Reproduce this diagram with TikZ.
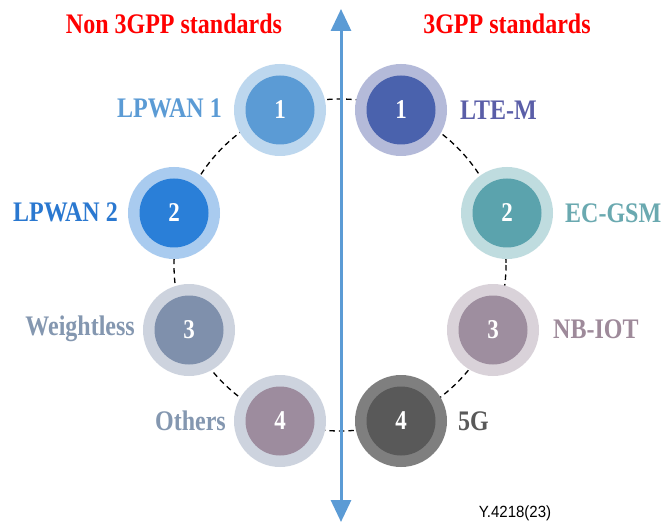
\documentclass[tikz,border=0pt]{standalone}
\usepackage{fontspec}
\usepackage{graphicx}
\setmainfont{Liberation Serif}
\newfontfamily\figsans{Liberation Sans}
\usetikzlibrary{arrows.meta}
\newcommand{\tallt}[1]{\scalebox{1}[1.18]{#1}}
\definecolor{axisblue}{HTML}{5B9BD5}
\definecolor{titlered}{HTML}{FF0000}
\definecolor{laA}{HTML}{BDD7EE}\definecolor{lbA}{HTML}{5B9BD5}
\definecolor{laB}{HTML}{A9CBEF}\definecolor{lbB}{HTML}{2A7FD8}
\definecolor{laC}{HTML}{CDD3DE}\definecolor{lbC}{HTML}{7F90AC}
\definecolor{laD}{HTML}{CDD3DE}\definecolor{lbD}{HTML}{9D8C9E}
\definecolor{raA}{HTML}{B4BAD9}\definecolor{rbA}{HTML}{4A62AD}
\definecolor{raB}{HTML}{BFDCDF}\definecolor{rbB}{HTML}{5BA3AD}
\definecolor{raC}{HTML}{D9D2D9}\definecolor{rbC}{HTML}{9E8E9F}
\definecolor{raD}{HTML}{7F7F7F}\definecolor{rbD}{HTML}{595959}
\definecolor{txA}{HTML}{5B9BD5}
\definecolor{txB}{HTML}{2A78D0}
\definecolor{txC}{HTML}{8497B0}
\definecolor{txE}{HTML}{5A5EA8}
\definecolor{txF}{HTML}{6AA9B0}
\definecolor{txG}{HTML}{9E8A9A}
\definecolor{txH}{HTML}{595959}
\begin{document}
\begin{tikzpicture}[x=1pt,y=-1pt,
 outerc/.style={circle, minimum size=92pt, inner sep=0pt, fill=#1},
 innerc/.style={circle, minimum size=69pt, inner sep=0pt, fill=#1, text=white, font=\bfseries\fontsize{23}{23}\selectfont},
 lbl/.style={font=\bfseries\fontsize{24}{24}\selectfont, text=#1, inner sep=0pt},
 ttl/.style={font=\bfseries\fontsize{24}{24}\selectfont, text=titlered, inner sep=0pt},
 ring/.style={dash pattern=on 5.5pt off 4pt, line width=1.3pt, black},
 axis/.style={line width=3pt, draw=axisblue, {Triangle[width=20pt,length=22pt]}-{Triangle[width=20pt,length=22pt]}}
]
\useasboundingbox[fill=white] (0,0) rectangle (662,524);
\coordinate (ctr) at (340,265);
\draw[ring] (ctr) circle[radius=166];
% left
\node[outerc=laA] (l1o) at (280,110) {};
\node[innerc=lbA] (l1) at (l1o) {\tallt{1}};
\node[outerc=laB] (l2o) at (174,213) {};
\node[innerc=lbB] (l2) at (l2o) {\tallt{2}};
\node[outerc=laC] (l3o) at (189,330) {};
\node[innerc=lbC] (l3) at (l3o) {\tallt{3}};
\node[outerc=laD] (l4o) at (280,421) {};
\node[innerc=lbD] (l4) at (l4o) {\tallt{4}};
% right
\node[outerc=raA] (r1o) at (401,110) {};
\node[innerc=rbA] (r1) at (r1o) {\tallt{1}};
\node[outerc=raB] (r2o) at (507,213) {};
\node[innerc=rbB] (r2) at (r2o) {\tallt{2}};
\node[outerc=raC] (r3o) at (493,330) {};
\node[innerc=rbC] (r3) at (r3o) {\tallt{3}};
\node[outerc=raD] (r4o) at (401,421) {};
\node[innerc=rbD] (r4) at (r4o) {\tallt{4}};
% labels
\node[lbl=txA, anchor=east] (t1) at (222,108) {\tallt{LPWAN 1}};
\node[lbl=txB, anchor=east] (t2) at (118,212) {\tallt{LPWAN 2}};
\node[lbl=txC, anchor=east] (t3) at (135,329) {\tallt{Weightless}};
\node[lbl=txC, anchor=east] (t4) at (226,421) {\tallt{Others}};
\node[lbl=txE, anchor=west] (t5) at (460,110) {\tallt{LTE-M}};
\node[lbl=txF, anchor=west] (t6) at (565,213) {\tallt{EC-GSM}};
\node[lbl=txG, anchor=west] (t7) at (553,329) {\tallt{NB-IOT}};
\node[lbl=txH, anchor=west] (t8) at (458,421) {\tallt{5G}};
% titles
\node[ttl] (h1) at (174,24) {\tallt{Non 3GPP standards}};
\node[ttl] (h2) at (507,24) {\tallt{3GPP standards}};
% axis
\coordinate (atop) at (341,9);
\coordinate (abot) at (341,522);
\draw[axis] (abot) -- (atop);
\node[font=\figsans\fontsize{15}{15}\selectfont, inner sep=0pt] (fig) at (515,513) {\scalebox{1}[1.08]{Y.4218(23)}};
\end{tikzpicture}
\end{document}
